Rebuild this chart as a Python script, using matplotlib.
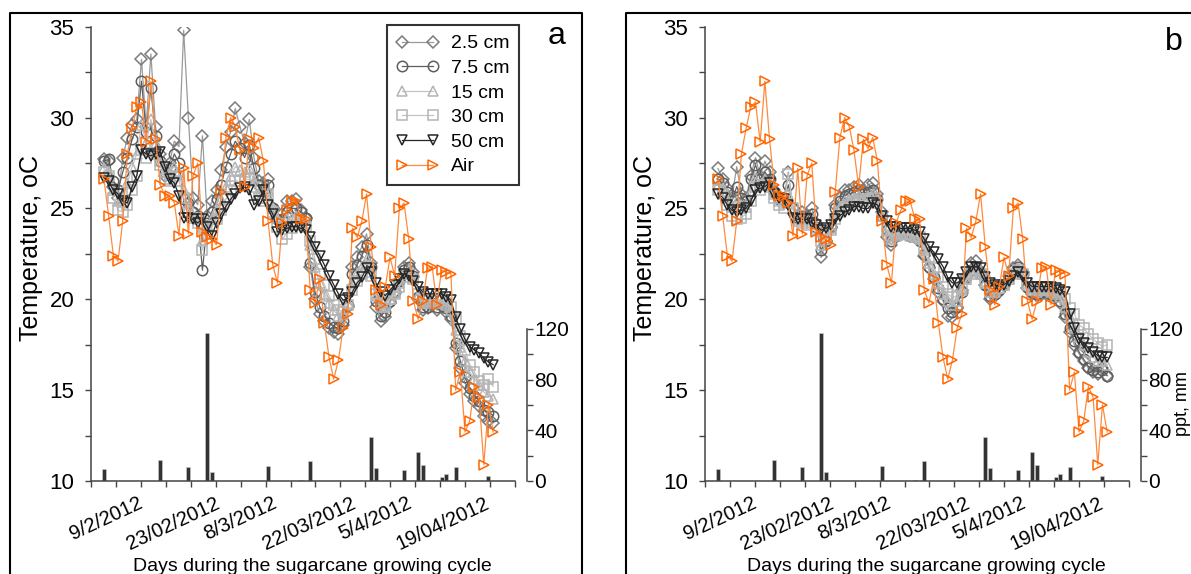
import matplotlib
matplotlib.use('Agg')
import matplotlib.pyplot as plt
from matplotlib.lines import Line2D

plt.rcParams['font.family'] = ['Liberation Sans', 'DejaVu Sans']

# ---------------- data ----------------
days = list(range(84))
date_labels = ['9/2/2012', '23/02/2012', '8/3/2012', '22/03/2012', '5/4/2012', '19/04/2012']
label_pos = [0.5, 14.7, 29.0, 43.7, 57.9, 72.3]

air = [26.6, 24.6, 22.4, 22.1, 24.3, 28.0, 29.4, 30.6, 30.85, 28.65, 32.0, 28.8, 26.3, 25.7, 25.7, 25.3, 23.5, 27.2, 23.6, 26.8, 27.5, 23.7,
       23.4, 23.3, 23.0, 25.9, 28.9, 30.0, 29.5, 28.2, 26.2, 28.8, 28.3, 28.9, 27.6, 24.3, 21.9, 20.9, 24.2, 24.9, 25.4, 25.4, 24.4, 24.4, 20.5, 19.8, 21.1, 18.7,
       16.8, 15.6, 16.65, 18.4, 19.2, 23.9, 23.4, 24.3, 25.8, 22.9, 20.5, 19.7, 20.7, 22.3, 21.3, 25.0, 25.3, 23.3, 19.9, 18.9, 19.9, 21.7, 21.8, 19.7, 21.6,
       21.5, 21.4, 15.0, 16.0, 12.7, 13.3, 15.2, 14.6, 10.9, 14.2, 12.7]

a_2_5 = [27.7, 27.6, 26.2, 25.6, 27.8, 28.9, 29.6, 29.9, 33.2, 29.5, 33.5, 29.5, 28.0, 26.8, 27.5, 28.7, 28.4, 34.8, 30.0, 25.6, 25.2, 29.0,
         24.6, 25.4, 26.0, 27.1, 28.4, 29.2, 30.5, 29.5, 28.6, 29.9, 27.8, 26.5, 26.4, 26.6, 25.0, 24.4, 24.7, 25.4, 25.4, 25.5, 24.9, 24.5, 21.8, 20.0, 19.2, 18.8,
         18.4, 18.2, 18.1, 18.6, 19.6, 21.8, 22.3, 22.9, 23.6, 22.0, 19.6, 18.8, 19.0, 19.8, 20.4, 21.0, 21.8, 22.0, 21.5, 20.0, 19.4, 19.5, 19.7, 19.4, 19.6,
         19.3, 18.9, 17.3, 16.2, 15.4, 14.8, 14.4, 14.1, 13.6, 13.3, 13.2]
a_7_5 = [27.6, 27.7, 26.5, 26.0, 27.0, 27.8, 28.8, 29.5, 32.0, 29.2, 31.6, 29.0, 27.6, 27.0, 27.2, 28.0, 27.5, 25.5, 25.3, 24.8, 24.6, 21.6,
         24.2, 24.8, 25.5, 26.3, 27.3, 28.0, 28.7, 28.3, 27.8, 28.5, 27.2, 26.3, 26.0, 26.3, 25.0, 24.4, 24.4, 24.8, 25.0, 25.0, 24.8, 24.5, 22.0, 20.4, 19.6, 19.1,
         18.7, 18.5, 18.4, 18.8, 19.7, 21.4, 21.9, 22.4, 23.0, 21.8, 19.9, 19.1, 19.3, 19.9, 20.4, 21.0, 21.6, 21.8, 21.3, 20.1, 19.6, 19.6, 19.8, 19.6, 19.7,
         19.5, 19.1, 17.6, 16.6, 15.7, 15.1, 14.7, 14.4, 13.9, 13.8, 13.6]
a_15 = [27.2, 27.0, 26.0, 25.4, 25.6, 26.4, 27.3, 28.0, 29.6, 28.6, 29.9, 28.6, 27.6, 27.0, 27.0, 27.3, 27.0, 26.0, 25.0, 24.6, 24.4, 23.2,
        24.0, 24.4, 24.9, 25.5, 26.2, 26.8, 27.3, 27.1, 27.0, 27.2, 26.5, 25.8, 25.6, 26.0, 25.0, 24.5, 24.2, 24.4, 24.5, 24.6, 24.4, 24.2, 23.0, 21.8, 20.9, 20.3,
        19.8, 19.4, 19.1, 19.2, 19.8, 20.9, 21.4, 21.8, 22.2, 21.5, 20.2, 19.6, 19.6, 20.0, 20.4, 20.9, 21.4, 21.6, 21.2, 20.2, 19.8, 19.8, 19.9, 19.8, 19.9,
        19.7, 19.4, 18.3, 17.4, 16.6, 16.0, 15.6, 15.3, 14.9, 14.7, 14.5]
a_30 = [27.0, 26.8, 25.6, 24.9, 24.8, 25.2, 26.0, 26.8, 28.2, 27.8, 28.6, 28.0, 27.4, 26.6, 26.5, 26.8, 26.5, 25.6, 24.8, 24.5, 24.2, 22.7,
        23.6, 24.0, 24.4, 24.9, 25.5, 26.0, 26.5, 26.5, 26.6, 26.6, 26.2, 25.6, 25.4, 25.8, 24.8, 24.0, 23.3, 23.6, 23.9, 24.1, 24.2, 24.0, 23.2, 22.2, 21.4, 20.8,
        20.2, 19.7, 19.4, 19.3, 19.7, 20.5, 21.0, 21.4, 21.8, 21.3, 20.3, 19.8, 19.7, 20.0, 20.3, 20.7, 21.2, 21.4, 21.1, 20.3, 19.9, 19.9, 20.0, 19.9, 20.0,
        19.8, 19.6, 18.9, 18.0, 17.2, 16.4, 16.0, 15.5, 15.3, 15.6, 15.2]
a_50 = [26.7, 26.5, 26.0, 25.8, 25.4, 25.3, 26.2, 26.8, 28.2, 28.0, 27.9, 28.0, 28.1, 27.3, 26.6, 26.4, 25.7, 24.5, 24.45, 24.4, 24.2, 24.4,
        24.0, 23.5, 24.2, 24.7, 25.1, 25.5, 25.8, 26.1, 26.2, 26.0, 25.2, 25.4, 26.0, 25.2, 24.7, 23.7, 23.8, 23.9, 24.0, 24.0, 23.9, 23.8, 23.4, 22.9, 22.4, 21.9,
        21.3, 20.8, 20.3, 19.95, 20.05, 20.4, 20.9, 21.2, 21.7, 21.5, 20.9, 20.4, 20.2, 20.5, 20.8, 21.1, 21.4, 21.3, 21.0, 20.7, 20.4, 20.3, 20.3, 20.3, 20.3,
        20.15, 19.95, 19.0, 18.35, 17.8, 17.4, 17.2, 17.05, 16.75, 16.55, 16.4]

b_2_5 = [27.2, 26.6, 26.1, 25.6, 27.3, 25.8, 25.6, 26.8, 27.8, 26.8, 27.6, 27.0, 26.0, 25.6, 25.5, 27.0, 25.0, 24.6, 24.8, 24.6,
         25.0, 24.2, 22.3, 23.2, 24.0, 25.2, 25.6, 26.0, 26.0, 26.2, 26.3, 26.0, 26.3, 26.4, 25.8, 24.8, 23.4, 23.0, 23.5, 23.7,
         23.6, 23.5, 23.4, 23.2, 22.4, 21.7, 21.1, 20.4, 19.9, 19.1, 19.0, 19.5, 20.5, 21.3, 22.0, 22.1, 21.5, 20.8, 20.0, 20.2,
         20.4, 20.8, 21.3, 21.7, 21.9, 21.5, 20.6, 20.3, 20.2, 20.3, 20.3, 20.2, 20.1, 19.8, 19.0, 18.2, 17.5, 17.0, 16.6, 16.2,
         16.0, 15.9, 16.2, 15.8]
b_7_5 = [26.6, 26.4, 25.9, 25.4, 26.2, 25.6, 25.4, 26.6, 27.4, 26.6, 27.0, 26.6, 25.9, 25.5, 25.4, 26.3, 25.0, 24.5, 24.6, 24.5,
         24.7, 24.0, 22.7, 23.2, 24.0, 25.0, 25.4, 25.7, 25.8, 25.9, 26.0, 25.8, 25.9, 26.0, 25.5, 24.6, 23.8, 23.2, 23.5, 23.6,
         23.6, 23.5, 23.4, 23.2, 22.5, 21.8, 21.2, 20.6, 20.0, 19.5, 19.3, 19.6, 20.4, 21.2, 21.6, 21.8, 21.4, 20.8, 20.2, 20.3,
         20.5, 20.8, 21.2, 21.6, 21.8, 21.4, 20.7, 20.4, 20.3, 20.4, 20.4, 20.3, 20.2, 19.9, 19.2, 18.4, 17.7, 17.1, 16.7, 16.3,
         16.1, 16.0, 16.1, 15.8]
b_15 = [26.3, 26.1, 25.6, 25.1, 25.4, 25.2, 25.1, 25.9, 26.7, 26.3, 26.6, 26.4, 25.8, 25.4, 25.3, 25.8, 24.9, 24.4, 24.4, 24.3,
        24.4, 23.9, 23.0, 23.3, 23.9, 24.7, 25.1, 25.4, 25.5, 25.6, 25.7, 25.6, 25.7, 25.8, 25.4, 24.6, 23.8, 23.3, 23.5, 23.6,
        23.6, 23.5, 23.4, 23.3, 22.7, 22.0, 21.4, 20.9, 20.3, 19.9, 19.7, 19.9, 20.5, 21.1, 21.5, 21.7, 21.4, 20.9, 20.4, 20.4,
        20.6, 20.8, 21.1, 21.5, 21.7, 21.4, 20.8, 20.5, 20.4, 20.5, 20.5, 20.4, 20.3, 20.1, 19.6, 19.0, 18.4, 17.9, 17.5, 17.1,
        16.8, 16.6, 16.6, 16.4]
b_30 = [26.0, 25.8, 25.2, 24.6, 24.4, 24.5, 24.7, 25.4, 26.2, 26.0, 26.3, 26.2, 25.6, 25.2, 25.0, 26.9, 25.0, 24.3, 24.2, 24.1,
        24.2, 23.8, 23.2, 23.3, 23.8, 24.4, 24.8, 25.1, 25.2, 25.4, 25.5, 25.4, 25.5, 25.6, 25.3, 24.6, 23.8, 23.5, 23.6, 23.7,
        23.6, 23.6, 23.5, 23.4, 22.9, 22.3, 21.7, 21.2, 20.7, 20.3, 20.1, 20.2, 20.6, 21.1, 21.4, 21.6, 21.4, 21.0, 20.6, 20.5,
        20.6, 20.8, 21.1, 21.4, 21.6, 21.4, 20.9, 20.6, 20.5, 20.6, 20.6, 20.5, 20.5, 20.4, 20.0, 19.5, 19.2, 18.6, 18.4, 18.1,
        17.8, 17.6, 17.4, 17.5]
b_50 = [25.8, 25.6, 25.2, 24.9, 24.8, 24.9, 25.0, 25.4, 26.0, 26.1, 26.2, 26.4, 25.8, 25.6, 25.5, 25.2, 24.5, 24.4, 24.4, 24.4, 24.2, 24.1,
        23.8, 23.9, 24.1, 24.4, 24.6, 24.8, 24.9, 25.1, 25.1, 25.0, 25.0, 25.3, 25.2, 24.6, 24.3, 24.0, 24.0, 23.9, 23.9, 23.9, 23.8, 23.7, 23.3, 22.9, 22.6, 22.2,
        21.8, 21.2, 20.9, 20.9, 21.1, 21.5, 21.8, 21.8, 21.7, 21.2, 20.9, 20.8, 20.7, 20.8, 21.0, 21.3, 21.5, 21.2, 20.9, 20.7, 20.7, 20.7, 20.7, 20.7, 20.6,
        20.5, 20.4, 19.2, 18.4, 17.8, 17.6, 17.3, 17.1, 16.9, 16.8, 16.8]

ppt_days = [0, 12, 18, 22, 23, 35, 42, 44, 57, 58, 64, 67, 68, 72, 73, 75, 82]
ppt_mm = [9.5, 16.6, 10.8, 117, 7.4, 12, 1, 15.8, 34.7, 10.5, 8.7, 22.9, 12.6, 3.2, 5.5, 11.3, 4]

series_names = ['2.5 cm', '7.5 cm', '15 cm', '30 cm', '50 cm', 'Air']
panel_a = [a_2_5, a_7_5, a_15, a_30, a_50, air]
panel_b = [b_2_5, b_7_5, b_15, b_30, b_50, air]

# ---------------- styles ----------------
markers = ['D', 'o', '^', 's', 'v', '>']
mcolors = ['#7c7c7c', '#5e5e5e', '#b4b4b4', '#b4b4b4', '#262626', '#ff6600']
lcolors = ['#9a9a9a', '#5e5e5e', '#c4c4c4', '#c4c4c4', '#262626', '#ff8a3d']
msizes = [5.8, 7.5, 7.6, 7.0, 7.6, 7.8]

W, H = 1191, 574
fig = plt.figure(figsize=(W / 100, H / 100), dpi=100)

px_per_day = 4.7
x0_day = (91 - 104) / px_per_day
tick_step = 25 / px_per_day
xmax_day = x0_day + 17 * tick_step
minor_ticks = [x0_day + k * tick_step for k in range(18)]
ppt_top = 120 * 454.3 / 152.0


def make_panel(left_px, data, legend=False):
    ax = fig.add_axes([left_px / W, (H - 481) / H, 424 / W, 454.3 / H])
    ax2 = ax.twinx()
    ax.set_zorder(ax2.get_zorder() + 1)
    ax.patch.set_visible(False)

    for name, vals, m, mc, lc, ms in zip(series_names, data, markers, mcolors, lcolors, msizes):
        ax.plot(days, vals, color=lc, lw=0.9, marker=m, ms=ms, mfc='none', mec=mc,
                mew=1.1, label=name)

    ax.set_xlim(x0_day, xmax_day)
    ax.set_ylim(10, 35)
    ax.set_yticks([10, 15, 20, 25, 30, 35])
    ax.set_yticks([12.5, 17.5, 22.5, 27.5, 32.5], minor=True)
    ax.set_xticks(label_pos)
    ax.set_xticklabels(date_labels, rotation=25, ha='center', va='top')
    ax.set_xticks(minor_ticks, minor=True)
    ax.tick_params(axis='x', which='major', length=0, pad=9, labelsize=14.5)
    ax.tick_params(axis='x', which='minor', length=4, width=1, color='#444444', direction='out')
    ax.tick_params(axis='y', which='both', length=4, width=1, color='#444444', direction='out',
                   labelsize=16, pad=8)
    for s in ['top', 'right']:
        ax.spines[s].set_visible(False)
    for s in ['left', 'bottom']:
        ax.spines[s].set_color('#444444')
        ax.spines[s].set_linewidth(1.1)

    ax2.bar(ppt_days, ppt_mm, width=0.85, color='#333333', edgecolor='#d0d0d0', linewidth=0.4)
    ax2.set_ylim(0, ppt_top)
    ax2.set_xlim(x0_day, xmax_day)
    for s in ['top', 'left', 'bottom']:
        ax2.spines[s].set_visible(False)
    ax2.spines['right'].set_position(('outward', 8.6))
    ax2.spines['right'].set_bounds(0, 120)
    ax2.spines['right'].set_color('#444444')
    ax2.spines['right'].set_linewidth(1.1)
    ax2.set_yticks([0, 40, 80, 120])
    ax2.set_yticks([20, 60, 100], minor=True)
    ax2.tick_params(axis='y', which='both', length=4, width=1, color='#444444', direction='out',
                    labelsize=15, pad=1.5)

    if legend:
        leg = ax.legend(loc='upper right', bbox_to_anchor=((519 - 91) / 424, (481 - 25) / 454.3),
                        numpoints=2, frameon=True, fancybox=False, edgecolor='black',
                        fontsize=14, handlelength=2.2, handletextpad=0.6,
                        labelspacing=0.36, borderpad=0.5, borderaxespad=0)
        leg.get_frame().set_linewidth(1.5)
    return ax, ax2


make_panel(91, panel_a, legend=True)
make_panel(705, panel_b)

# axis titles
for off in (0, 614):
    fig.text((31 + off) / W, 1 - 248 / H, 'Temperature, oC', rotation=90,
             ha='center', va='center', fontsize=18)
    fig.text((312 + off) / W, 1 - 571 / H, 'Days during the sugarcane growing cycle',
             ha='center', va='baseline', fontsize=14)
fig.text(1191 / W, 1 - 404 / H, 'ppt, mm', rotation=90, ha='right', va='center', fontsize=13)

fig.text(557 / W, 1 - 44 / H, 'a', ha='center', va='baseline', fontsize=23)
fig.text(1174 / W, 1 - 50 / H, 'b', ha='center', va='baseline', fontsize=23)

# outer panel frames
def fline(xs, ys):
    fig.add_artist(Line2D([x / W for x in xs], [1 - y / H for y in ys], color='black',
                          lw=1.5, transform=fig.transFigure))

fline([10, 10, 582, 582], [600, 13, 13, 600])
fline([626, 626, 1200], [600, 13, 13])

fig.savefig('out.png', dpi=100)
